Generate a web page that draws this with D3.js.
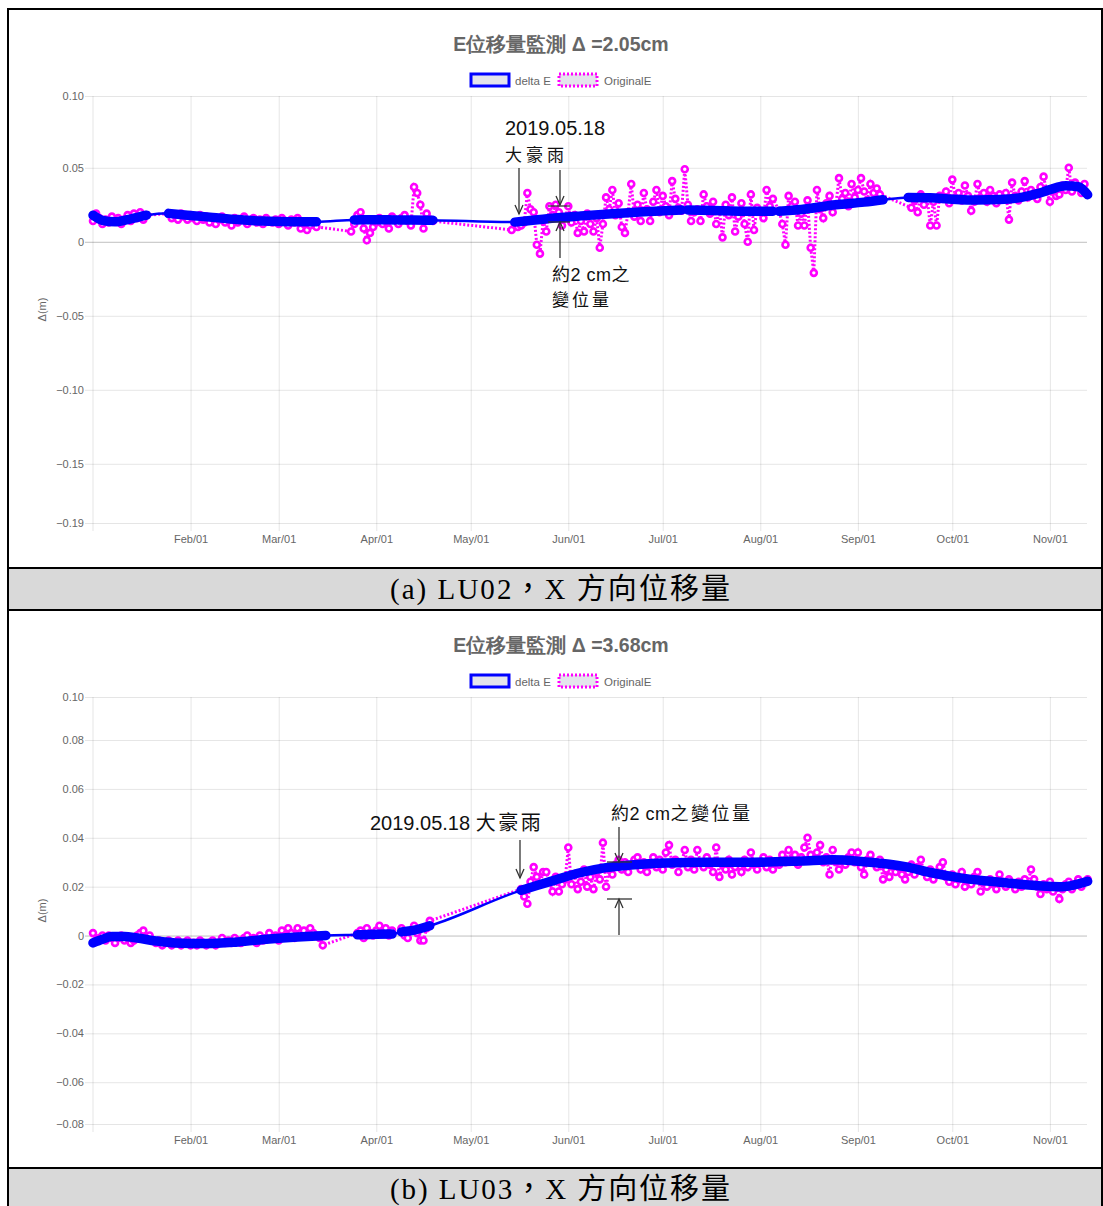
<!DOCTYPE html>
<html>
<head>
<meta charset="utf-8">
<script src="https://cdn.jsdelivr.net/npm/d3@7"></script>
<style>
  body { margin: 0; background: #fff; }
  text { font-family: "Liberation Sans", Arial, sans-serif; }
</style>
</head>
<body>
<svg id="chart" width="1103" height="1206"></svg>
<script>
// ---- data ----
var monthTicks = ["2019-02-01", "2019-03-01", "2019-04-01", "2019-05-01", "2019-06-01",
  "2019-07-01", "2019-08-01", "2019-09-01", "2019-10-01", "2019-11-01"];
var monthLabels = ["Feb/01", "Mar/01", "Apr/01", "May/01", "Jun/01", "Jul/01", "Aug/01", "Sep/01", "Oct/01", "Nov/01"];

var titleA = "E位移量監測 Δ =2.05cm";
var titleB = "E位移量監測 Δ =3.68cm";
var captionA = "(a) LU02，X 方向位移量";
var captionB = "(b) LU03，X 方向位移量";
var legendNames = ["delta E", "OriginalE"];

// y axis (min/max of the chart are also shown as ticks)
var yDomA = [-0.19, 0.0985];
var yTicksA = [0.0985, 0.05, 0, -0.05, -0.10, -0.15, -0.19];
var yDomB = [-0.0771, 0.0976];
var yTicksB = [0.0976, 0.08, 0.06, 0.04, 0.02, 0, -0.02, -0.04, -0.06, -0.0771];

// delta E, per recording segment: [day of year (0 = Jan 01), value in m]
var blueSegA = [
  [[0, 0.018], [3, 0.0145], [7, 0.0135], [11, 0.0150], [15, 0.017], [17, 0.018]],
  [[24, 0.0192], [30, 0.0180], [38, 0.0165], [46, 0.0150], [54, 0.0140], [62, 0.0136], [71, 0.0135]],
  [[83, 0.0148], [90, 0.0149], [96, 0.0148]],
  [[97, 0.0148], [102, 0.0148], [108, 0.0146]],
  [[134, 0.0133], [145, 0.0158], [155, 0.0175], [165, 0.0190], [175, 0.0203], [187, 0.0215]],
  [[189, 0.0215], [200, 0.0210], [210, 0.0206], [216, 0.0207]],
  [[218, 0.0207], [225, 0.0218], [236, 0.0250], [245, 0.0268], [251, 0.0284]],
  [[259, 0.0300], [266, 0.0298], [273, 0.0288], [281, 0.0282], [288, 0.0285], [295, 0.0300],
   [300, 0.0325], [304, 0.0352], [309, 0.0378], [313, 0.0372], [316, 0.0318]]
];
var blueSegB = [
  [[0, -0.0030], [3, -0.0015], [6, -0.0004], [10, -0.0004], [14, -0.0010], [20, -0.0022],
   [26, -0.0030], [36, -0.0033], [46, -0.0026], [56, -0.0014], [65, -0.0006], [74, 0.0000]],
  [[84, 0.0003], [90, 0.0005], [95, 0.0006]],
  [[98, 0.0015], [102, 0.0022], [107, 0.0040]],
  [[136, 0.0185], [141, 0.0205], [147, 0.0228]],
  [[148, 0.0232], [155, 0.0258], [163, 0.0278], [172, 0.0290], [182, 0.0297], [195, 0.0300],
   [210, 0.0300], [225, 0.0305], [235, 0.0310], [245, 0.0302], [253, 0.0292], [258, 0.0282],
   [266, 0.0258], [276, 0.0235], [285, 0.0222], [293, 0.0212], [303, 0.0202], [308, 0.0200],
   [312, 0.0208], [316, 0.0222]]
];

// OriginalE, daily runs: first day of each run and its daily values
var origStartA = [0, 24, 82, 97, 133, 188, 218, 260];
var origValsA = [
  [0.014, 0.019, 0.016, 0.012, 0.015, 0.013, 0.017, 0.014, 0.016, 0.012, 0.015, 0.018, 0.014, 0.019, 0.016, 0.020, 0.015, 0.018],
  [0.019, 0.016, 0.018, 0.015, 0.019, 0.017, 0.015, 0.018, 0.016, 0.014, 0.018, 0.015, 0.017, 0.013, 0.016, 0.012,
   0.015, 0.017, 0.013, 0.015, 0.011, 0.016, 0.013, 0.015, 0.017, 0.012, 0.014, 0.016, 0.013, 0.015, 0.012, 0.016,
   0.014, 0.013, 0.015, 0.012, 0.016, 0.014, 0.011, 0.015, 0.013, 0.016, 0.009, 0.012, 0.008, 0.011, 0.013, 0.010],
  [0.007, 0.012, 0.018, 0.020, 0.009, 0.001, 0.006, 0.010, 0.013, 0.016, 0.012, 0.014, 0.009, 0.017, 0.015],
  [0.012, 0.016, 0.018, 0.014, 0.011, 0.037, 0.033, 0.025, 0.009, 0.019, 0.015, 0.014],
  [0.008, 0.012, 0.010, 0.011, 0.013, 0.033, 0.022, 0.020, -0.002, -0.008, 0.014, 0.007, 0.024, 0.018, 0.025, 0.020,
   0.011, 0.016, 0.024, 0.013, 0.018, 0.006, 0.014, 0.007, 0.019, 0.012, 0.007, 0.016, -0.004, 0.012, 0.030, 0.022,
   0.035, 0.018, 0.026, 0.010, 0.006, 0.020, 0.039, 0.017, 0.025, 0.014, 0.033, 0.022, 0.014, 0.027, 0.035, 0.020,
   0.031, 0.024, 0.018, 0.041, 0.029, 0.023, 0.021],
  [0.049, 0.025, 0.014, 0.020, 0.022, 0.014, 0.032, 0.024, 0.019, 0.027, 0.012, 0.021, 0.003, 0.025, 0.018, 0.030,
   0.007, 0.017, 0.026, 0.012, 0.000, 0.032, 0.008, 0.023, 0.020, 0.016, 0.035, 0.024, 0.029],
  [0.021, 0.012, -0.002, 0.031, 0.024, 0.027, 0.011, 0.019, 0.011, 0.028, -0.004, -0.021, 0.035, 0.022, 0.016, 0.026,
   0.031, 0.020, 0.025, 0.043, 0.029, 0.033, 0.024, 0.039, 0.030, 0.035, 0.043, 0.034, 0.028, 0.039, 0.033, 0.036, 0.032],
  [0.023, 0.028, 0.020, 0.032, 0.025, 0.030, 0.011, 0.027, 0.011, 0.031, 0.029, 0.034, 0.026, 0.042, 0.030, 0.033,
   0.028, 0.038, 0.031, 0.021, 0.027, 0.039, 0.030, 0.033, 0.027, 0.035, 0.031, 0.026, 0.032, 0.029, 0.033, 0.015,
   0.040, 0.031, 0.028, 0.034, 0.041, 0.030, 0.035, 0.033, 0.029, 0.037, 0.044, 0.034, 0.027, 0.036, 0.031, 0.032,
   0.038, 0.035, 0.050, 0.034, 0.040, 0.037, 0.033, 0.039]
];
var origStartB = [0, 84, 98, 136];
var origValsB = [
  [0.001, -0.002, -0.001, 0.000, -0.002, 0.000, -0.001, -0.003, -0.001, 0.000, -0.002, -0.001, -0.003, -0.002, 0.000, 0.001,
   0.002, -0.001, 0.000, -0.002, -0.003, -0.002, -0.004, -0.003, -0.002, -0.004, -0.003, -0.002, -0.004, -0.003, -0.002, -0.004,
   -0.003, -0.004, -0.002, -0.003, -0.004, -0.003, -0.002, -0.004, -0.003, -0.001, -0.003, -0.002, -0.003, -0.001, -0.002, -0.003,
   -0.001, 0.000, -0.002, -0.001, -0.003, 0.000, -0.002, -0.001, 0.001, -0.001, 0.000, -0.002, 0.002, 0.000, 0.003, 0.001,
   -0.001, 0.003, 0.001, 0.002, 0.000, 0.003, 0.001, 0.000, -0.001, -0.004],
  [0.001, 0.002, -0.001, 0.003, 0.001, 0.000, 0.002, 0.004, 0.001, 0.003, 0.000, 0.002],
  [0.003, 0.000, -0.001, 0.002, 0.004, 0.001, -0.002, -0.002, 0.003, 0.006],
  [0.019, 0.016, 0.013, 0.022, 0.028, 0.024, 0.021, 0.026, 0.026, 0.022, 0.018, 0.024, 0.018, 0.021, 0.023, 0.036,
   0.021, 0.025, 0.019, 0.022, 0.027, 0.020, 0.024, 0.019, 0.026, 0.023, 0.038, 0.020, 0.027, 0.025, 0.029, 0.031,
   0.027, 0.030, 0.026, 0.029, 0.031, 0.032, 0.027, 0.030, 0.026, 0.029, 0.032, 0.028, 0.031, 0.027, 0.034, 0.037,
   0.029, 0.031, 0.026, 0.030, 0.035, 0.028, 0.031, 0.027, 0.035, 0.030, 0.028, 0.032, 0.029, 0.026, 0.036, 0.024,
   0.029, 0.027, 0.031, 0.025, 0.028, 0.030, 0.026, 0.031, 0.028, 0.034, 0.029, 0.027, 0.030, 0.032, 0.028, 0.031,
   0.027, 0.030, 0.029, 0.033, 0.030, 0.035, 0.031, 0.033, 0.029, 0.032, 0.036, 0.040, 0.033, 0.031, 0.034, 0.037,
   0.030, 0.032, 0.025, 0.035, 0.030, 0.027, 0.031, 0.029, 0.032, 0.034, 0.030, 0.034, 0.028, 0.025, 0.031, 0.033,
   0.030, 0.028, 0.031, 0.023, 0.027, 0.024, 0.029, 0.026, 0.028, 0.025, 0.023, 0.026, 0.029, 0.025, 0.028, 0.031,
   0.026, 0.024, 0.027, 0.023, 0.025, 0.028, 0.030, 0.024, 0.022, 0.025, 0.021, 0.023, 0.026, 0.020, 0.023, 0.021,
   0.024, 0.026, 0.018, 0.022, 0.020, 0.023, 0.021, 0.019, 0.025, 0.022, 0.020, 0.023, 0.021, 0.019, 0.022, 0.020,
   0.023, 0.021, 0.027, 0.023, 0.020, 0.017, 0.021, 0.019, 0.022, 0.018, 0.020, 0.015, 0.019, 0.021, 0.022, 0.019,
   0.021, 0.023, 0.020, 0.022, 0.023]
];

// ---- drawing ----
var svg = d3.select("#chart");
var startDate = new Date(2019, 0, 1);
var x = d3.scaleTime()
  .domain([startDate, new Date(2019, 10, 12, 19)])
  .range([93, 1087]);
function dayDate(d) { return d3.timeDay.offset(startDate, d); }
var parseDay = d3.timeParse("%Y-%m-%d");
var tickDates = monthTicks.map(parseDay);

var gray = "#666";
var fmt = d3.format(".2f");

function runsToPoints(starts, vals) {
  var pts = [];
  for (var i = 0; i < starts.length; i++) {
    for (var j = 0; j < vals[i].length; j++) {
      pts.push([starts[i] + j, vals[i][j]]);
    }
  }
  return pts;
}

function drawPanel(off, title, yDom, yTicks, blueSeg, origPts) {
  var top = 96 + off, bottom = 523 + off;
  var y = d3.scaleLinear().domain(yDom).range([bottom, top]);
  var g = svg.append("g");

  // title
  g.append("text")
    .attr("x", 561).attr("y", 51 + off)
    .attr("text-anchor", "middle")
    .style("font-size", "19.5px").style("font-weight", "bold")
    .style("fill", gray)
    .text(title);

  // legend
  var lg = g.append("g").attr("transform", "translate(0," + (74 + off) + ")");
  lg.append("rect").attr("x", 471).attr("y", 0).attr("width", 38).attr("height", 12)
    .style("fill", "#e4e4ec").style("stroke", "#0000ff").style("stroke-width", 3);
  lg.append("text").attr("x", 515).attr("y", 10.5).style("font-size", "11.5px").style("fill", gray).text(legendNames[0]);
  lg.append("rect").attr("x", 559).attr("y", 0).attr("width", 38).attr("height", 12)
    .style("fill", "#e4e4ec").style("stroke", "#ff00ff").style("stroke-width", 3)
    .style("stroke-dasharray", "2,2");
  lg.append("text").attr("x", 604).attr("y", 10.5).style("font-size", "11.5px").style("fill", gray).text(legendNames[1]);

  // horizontal grid
  var yGrid = g.append("g").attr("transform", "translate(85,0)")
    .call(d3.axisRight(y).tickValues(yTicks).tickSize(1087 - 85).tickFormat(""));
  yGrid.select(".domain").remove();
  yGrid.selectAll(".tick line")
    .style("stroke", function (d) { return d === 0 ? "rgba(0,0,0,0.25)" : "rgba(0,0,0,0.1)"; });

  // vertical grid
  var xGrid = g.append("g").attr("transform", "translate(0," + (bottom + 8) + ")")
    .call(d3.axisTop(x).tickValues(tickDates).tickSize(bottom + 8 - top).tickFormat(""));
  xGrid.select(".domain").remove();
  xGrid.selectAll(".tick line").style("stroke", "rgba(0,0,0,0.1)");

  // left border
  g.append("line").attr("x1", 93).attr("x2", 93).attr("y1", top).attr("y2", bottom + 8)
    .style("stroke", "rgba(0,0,0,0.1)");

  // y labels
  var yAx = g.append("g").attr("transform", "translate(84,0)")
    .call(d3.axisLeft(y).tickValues(yTicks).tickSize(0).tickPadding(0)
      .tickFormat(function (d) { return d === 0 ? "0" : fmt(d); }));
  yAx.select(".domain").remove();
  yAx.selectAll("text").style("font-size", "11px").style("fill", gray)
    .style("font-family", "'Liberation Sans', Arial, sans-serif");

  // x labels
  var xAx = g.append("g").attr("transform", "translate(0," + bottom + ")")
    .call(d3.axisBottom(x).tickValues(tickDates).tickSize(0).tickPadding(12)
      .tickFormat(function (d, i) { return monthLabels[i]; }));
  xAx.select(".domain").remove();
  xAx.selectAll("text").style("font-size", "11px").style("fill", gray)
    .style("font-family", "'Liberation Sans', Arial, sans-serif");

  // y title
  g.append("text")
    .attr("transform", "translate(46," + ((top + bottom) / 2) + ") rotate(-90)")
    .attr("text-anchor", "middle")
    .style("font-size", "11px").style("fill", gray)
    .text("Δ(m)");

  // OriginalE: dotted line + ring markers
  var lineOrig = d3.line()
    .x(function (d) { return x(dayDate(d[0])); })
    .y(function (d) { return y(d[1]); });
  g.append("path").datum(origPts).attr("d", lineOrig)
    .style("fill", "none").style("stroke", "#ff00ff").style("stroke-width", 3)
    .style("stroke-dasharray", "2,2");
  g.selectAll(".pt").data(origPts).enter().append("circle")
    .attr("class", "pt")
    .attr("cx", function (d) { return x(dayDate(d[0])); })
    .attr("cy", function (d) { return y(d[1]); })
    .attr("r", 3)
    .style("fill", "#fff").style("stroke", "#ff00ff").style("stroke-width", 2.6);

  // delta E: thin line across gaps, thick band where dense records exist
  var lineBlue = d3.line()
    .x(function (d) { return x(dayDate(d[0])); })
    .y(function (d) { return y(d[1]); })
    .curve(d3.curveMonotoneX);
  var allBlue = [].concat.apply([], blueSeg);
  g.append("path").datum(allBlue).attr("d", lineBlue)
    .style("fill", "none").style("stroke", "#0000ff").style("stroke-width", 2.5);
  blueSeg.forEach(function (seg) {
    g.append("path").datum(seg).attr("d", lineBlue)
      .style("fill", "none").style("stroke", "#0000ff").style("stroke-width", 9.5)
      .style("stroke-linecap", "round").style("stroke-linejoin", "round");
  });
  return y;
}

function arrowDown(xp, y1, y2) {
  var a = svg.append("g").style("stroke", "#333").style("stroke-width", 1.3).style("fill", "none");
  a.append("line").attr("x1", xp).attr("x2", xp).attr("y1", y1).attr("y2", y2);
  a.append("path").attr("d", "M" + (xp - 4) + "," + (y2 - 9) + "L" + xp + "," + y2 + "L" + (xp + 4) + "," + (y2 - 9));
}
function arrowUp(xp, y1, y2) {
  var a = svg.append("g").style("stroke", "#333").style("stroke-width", 1.3).style("fill", "none");
  a.append("line").attr("x1", xp).attr("x2", xp).attr("y1", y1).attr("y2", y2);
  a.append("path").attr("d", "M" + (xp - 4) + "," + (y2 + 9) + "L" + xp + "," + y2 + "L" + (xp + 4) + "," + (y2 + 9));
}
function bar(x1, x2, yp) {
  svg.append("line").attr("x1", x1).attr("x2", x2).attr("y1", yp).attr("y2", yp)
    .style("stroke", "#333").style("stroke-width", 1.3);
}
// parts: [[string, letter spacing], ...]
function note(xp, yp, parts, size) {
  var t = svg.append("text").attr("x", xp).attr("y", yp)
    .style("font-size", size + "px").style("fill", "#111")
    .style("font-family", "'Liberation Sans', 'Noto Sans CJK TC', sans-serif");
  parts.forEach(function (p) {
    t.append("tspan").style("letter-spacing", p[1] + "px").text(p[0]);
  });
}

// table frame and caption rows
svg.append("rect").attr("x", 8).attr("y", 568).attr("width", 1094).attr("height", 42).style("fill", "#d9d9d9");
svg.append("rect").attr("x", 8).attr("y", 1168).attr("width", 1094).attr("height", 40).style("fill", "#d9d9d9");

drawPanel(0, titleA, yDomA, yTicksA, blueSegA, runsToPoints(origStartA, origValsA));
drawPanel(601, titleB, yDomB, yTicksB, blueSegB, runsToPoints(origStartB, origValsB));

[9, 568, 610, 1168].forEach(function (yp) {
  svg.append("line").attr("x1", 7).attr("x2", 1103).attr("y1", yp).attr("y2", yp)
    .style("stroke", "#000").style("stroke-width", 2);
});
[8, 1102].forEach(function (xp) {
  svg.append("line").attr("x1", xp).attr("x2", xp).attr("y1", 8).attr("y2", 1206)
    .style("stroke", "#000").style("stroke-width", 2);
});

[[captionA, 599], [captionB, 1199]].forEach(function (c) {
  svg.append("text").attr("x", 560).attr("y", c[1]).attr("text-anchor", "middle")
    .attr("textLength", 340).attr("lengthAdjust", "spacing")
    .style("font-size", "29px").style("fill", "#000")
    .style("font-family", "'Liberation Serif', 'Noto Sans CJK TC', serif")
    .text(c[0]);
});

// annotations panel (a)
note(505, 135, [["2019.05.18", 0]], 20);
note(505, 161, [["大豪雨", 4]], 17);
arrowDown(519, 168, 214);
arrowDown(560, 170, 205);
bar(548, 570, 206);
bar(548, 570, 222);
arrowUp(560, 258, 222);
note(552, 281, [["約2 cm之", 0.5]], 18);
note(552, 306, [["變位量", 3]], 17);

// annotations panel (b)
note(370, 830, [["2019.05.18 ", 0], ["大豪雨", 2.5]], 20);
arrowDown(520, 840, 878);
note(611, 820, [["約2 cm", 0.5], ["之變位量", 2.5]], 18);
arrowDown(619, 827, 862);
bar(607, 632, 862);
bar(607, 632, 899);
arrowUp(619, 935, 899);
</script>
</body>
</html>
